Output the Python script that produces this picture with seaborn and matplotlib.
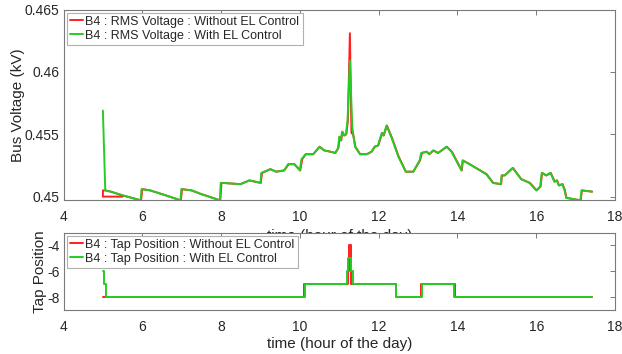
import numpy as np
import pandas as pd
import matplotlib
matplotlib.use("Agg")
import matplotlib.pyplot as plt
import seaborn as sns

# ---- bus B4 RMS voltage (kV) ----
t_volt_with = [5.00, 5.06, 5.20, 5.50, 5.96, 5.98, 6.20, 6.50, 6.97, 6.99, 7.25, 7.50,
               7.97, 7.99, 8.03, 8.49, 8.72, 9.00, 9.02, 9.25, 9.40, 9.60, 9.70, 9.86,
               10.00, 10.04, 10.15, 10.34, 10.50, 10.62, 10.78, 10.90, 10.97, 11.00,
               11.04, 11.07, 11.12, 11.17, 11.21, 11.27, 11.33, 11.40, 11.53, 11.70,
               11.82, 11.90, 11.98, 12.02, 12.08, 12.12, 12.20, 12.33, 12.50, 12.69,
               12.88, 13.04, 13.08, 13.22, 13.28, 13.38, 13.51, 13.72, 13.85, 14.10,
               14.13, 14.31, 14.73, 14.90, 15.10, 15.12, 15.20, 15.40, 15.62, 15.83,
               16.00, 16.10, 16.14, 16.25, 16.36, 16.46, 16.52, 16.57, 16.66, 16.72,
               16.76, 17.12, 17.15, 17.42]
v_volt_with = [0.4569, 0.4505, 0.4504, 0.4501, 0.4497, 0.4506, 0.4505, 0.4502, 0.4497, 0.4506, 0.4505, 0.4502,
               0.4497, 0.4511, 0.4511, 0.4510, 0.4513, 0.4511, 0.4519, 0.4522, 0.4520, 0.4521, 0.4526, 0.4526,
               0.4521, 0.4530, 0.4534, 0.4534, 0.4540, 0.4537, 0.4536, 0.4535, 0.4539, 0.4548,
               0.4545, 0.4552, 0.4549, 0.4550, 0.4561, 0.4609, 0.4556, 0.4540, 0.4534, 0.4534,
               0.4536, 0.4540, 0.4541, 0.4545, 0.4551, 0.4549, 0.4557, 0.4547, 0.4532, 0.4520,
               0.4520, 0.4529, 0.4535, 0.4536, 0.4534, 0.4537, 0.4535, 0.4540, 0.4536, 0.4521,
               0.4529, 0.4526, 0.4518, 0.4511, 0.4510, 0.4517, 0.4517, 0.4523, 0.4514, 0.4511,
               0.4505, 0.4508, 0.4519, 0.4517, 0.4519, 0.4512, 0.4513, 0.4509, 0.4510, 0.4505,
               0.4499, 0.4497, 0.4505, 0.4504]

t_volt_without = [5.50, 5.00, 5.00, 5.06, 5.20, 5.50, 5.97, 6.00, 6.20, 6.50, 6.98, 7.01, 7.25, 7.50,
                  7.98, 8.01, 8.05, 8.49, 8.72, 9.01, 9.04, 9.25, 9.40, 9.60, 9.72, 9.86,
                  10.01, 10.06, 10.15, 10.34, 10.50, 10.62, 10.78, 10.90, 10.98, 11.01,
                  11.05, 11.08, 11.13, 11.18, 11.22, 11.27, 11.31, 11.35, 11.41, 11.53, 11.70,
                  11.82, 11.90, 11.99, 12.03, 12.09, 12.13, 12.21, 12.34, 12.51, 12.69,
                  12.88, 13.05, 13.10, 13.22, 13.29, 13.39, 13.51, 13.73, 13.86, 14.11,
                  14.14, 14.31, 14.74, 14.91, 15.11, 15.13, 15.20, 15.41, 15.62, 15.84,
                  16.01, 16.11, 16.15, 16.26, 16.37, 16.47, 16.53, 16.58, 16.67, 16.73,
                  16.77, 17.13, 17.16, 17.42]
v_volt_without = [0.4500, 0.4500, 0.4505, 0.4505, 0.4504, 0.4501, 0.4497, 0.4506, 0.4505, 0.4502, 0.4497, 0.4506, 0.4505, 0.4502,
                  0.4497, 0.4511, 0.4511, 0.4510, 0.4513, 0.4511, 0.4519, 0.4522, 0.4520, 0.4521, 0.4526, 0.4526,
                  0.4521, 0.4530, 0.4534, 0.4534, 0.4540, 0.4537, 0.4536, 0.4535, 0.4539, 0.4548,
                  0.4545, 0.4552, 0.4549, 0.4550, 0.4561, 0.4631, 0.4551, 0.4550, 0.4540, 0.4534, 0.4534,
                  0.4536, 0.4540, 0.4541, 0.4545, 0.4551, 0.4549, 0.4557, 0.4547, 0.4532, 0.4520,
                  0.4520, 0.4529, 0.4535, 0.4536, 0.4534, 0.4537, 0.4535, 0.4540, 0.4536, 0.4521,
                  0.4529, 0.4526, 0.4518, 0.4511, 0.4510, 0.4517, 0.4517, 0.4523, 0.4514, 0.4511,
                  0.4505, 0.4508, 0.4519, 0.4517, 0.4519, 0.4512, 0.4513, 0.4509, 0.4510, 0.4505,
                  0.4499, 0.4497, 0.4505, 0.4504]

# ---- transformer tap position ----
t_tap_with = [5.00, 5.02, 5.08, 10.12, 11.19, 11.22, 11.29, 11.34, 12.44, 13.09, 13.91, 17.42]
v_tap_with = [-6, -7, -8, -7, -6, -5, -6, -7, -8, -7, -8, -8]
t_tap_without = [5.00, 10.10, 11.21, 11.25, 11.29, 12.45, 13.08, 13.95, 17.42]
v_tap_without = [-8, -7, -6, -4, -7, -8, -7, -8, -8]

volt_labels = ["B4 : RMS Voltage : Without EL Control", "B4 : RMS Voltage : With EL Control"]
tap_labels = ["B4 : Tap Position : Without EL Control", "B4 : Tap Position : With EL Control"]

x_ticks = [4, 6, 8, 10, 12, 14, 16, 18]
volt_ticks = [0.45, 0.455, 0.46, 0.465]
tap_ticks = [-4, -6, -8]

RED = "#ff1f1f"
GREEN = "#26cc26"
EDGE = "#7a7a7a"

sns.set_theme(style="white")
plt.rcParams["font.family"] = ["Liberation Sans", "DejaVu Sans"]

volt_df = pd.concat([
    pd.DataFrame({"time": t_volt_without, "value": v_volt_without, "series": volt_labels[0]}),
    pd.DataFrame({"time": t_volt_with, "value": v_volt_with, "series": volt_labels[1]}),
], ignore_index=True)
tap_df = pd.concat([
    pd.DataFrame({"time": t_tap_without, "value": v_tap_without, "series": tap_labels[0]}),
    pd.DataFrame({"time": t_tap_with, "value": v_tap_with, "series": tap_labels[1]}),
], ignore_index=True)

W, H = 622, 354
fig = plt.figure(figsize=(W / 100, H / 100), dpi=100)
ax1 = fig.add_axes([63.5 / W, 1 - 200 / H, 551.5 / W, 190.5 / H])
ax2 = fig.add_axes([63.5 / W, 1 - 310 / H, 551.5 / W, 77.5 / H])


def style_axes(ax):
    ax.set_facecolor("white")
    for sp in ax.spines.values():
        sp.set_visible(True)
        sp.set_color(EDGE)
        sp.set_linewidth(0.8)
    ax.tick_params(which="both", direction="in", length=3.5, width=0.7, color=EDGE,
                   top=True, right=True, labelsize=10, labelcolor="#262626")
    ax.tick_params(axis="x", pad=7.5)
    ax.tick_params(axis="y", pad=3)
    ax.set_xlim(4, 18)
    ax.set_xticks(x_ticks)
    ax.set_xticklabels([f"{v:g}" for v in x_ticks])
    ax.grid(False)


def add_legend(ax):
    handles = ax.get_lines()[:2]
    leg = ax.legend(handles, [h.get_label() for h in handles], loc="upper left",
                    fontsize=9, frameon=True, fancybox=False, framealpha=1,
                    edgecolor="#b0b0b0", borderaxespad=0.25, borderpad=0.25,
                    handlelength=1.05, handletextpad=0.2, labelspacing=0.15)
    leg.get_frame().set_linewidth(0.8)


sns.lineplot(data=volt_df, x="time", y="value", hue="series",
             palette={volt_labels[0]: RED, volt_labels[1]: GREEN},
             estimator=None, sort=False, lw=1.4, legend=False, ax=ax1)
for line, lab in zip(ax1.get_lines(), volt_labels):
    line.set_label(lab)
style_axes(ax1)
ax1.set_ylim(0.44973, 0.465)
ax1.set_yticks(volt_ticks)
ax1.set_yticklabels([f"{v:g}" for v in volt_ticks])
ax1.set_ylabel("Bus Voltage (kV)", fontsize=11, labelpad=0, color="#262626")
ax1.set_xlabel("time (hour of the day)", fontsize=11, labelpad=3, color="#262626")
add_legend(ax1)

sns.lineplot(data=tap_df, x="time", y="value", hue="series",
             palette={tap_labels[0]: RED, tap_labels[1]: GREEN},
             estimator=None, sort=False, lw=1.4, legend=False,
             drawstyle="steps-post", ax=ax2)
for line, lab in zip(ax2.get_lines(), tap_labels):
    line.set_label(lab)
style_axes(ax2)
ax2.set_ylim(-9, -3)
ax2.set_yticks(tap_ticks)
ax2.set_yticklabels([f"{v:g}" for v in tap_ticks])
ax2.set_ylabel("Tap Position", fontsize=11, labelpad=0, color="#262626")
ax2.set_xlabel("time (hour of the day)", fontsize=11, labelpad=2, color="#262626")
add_legend(ax2)

fig.savefig("out.png", dpi=100)
